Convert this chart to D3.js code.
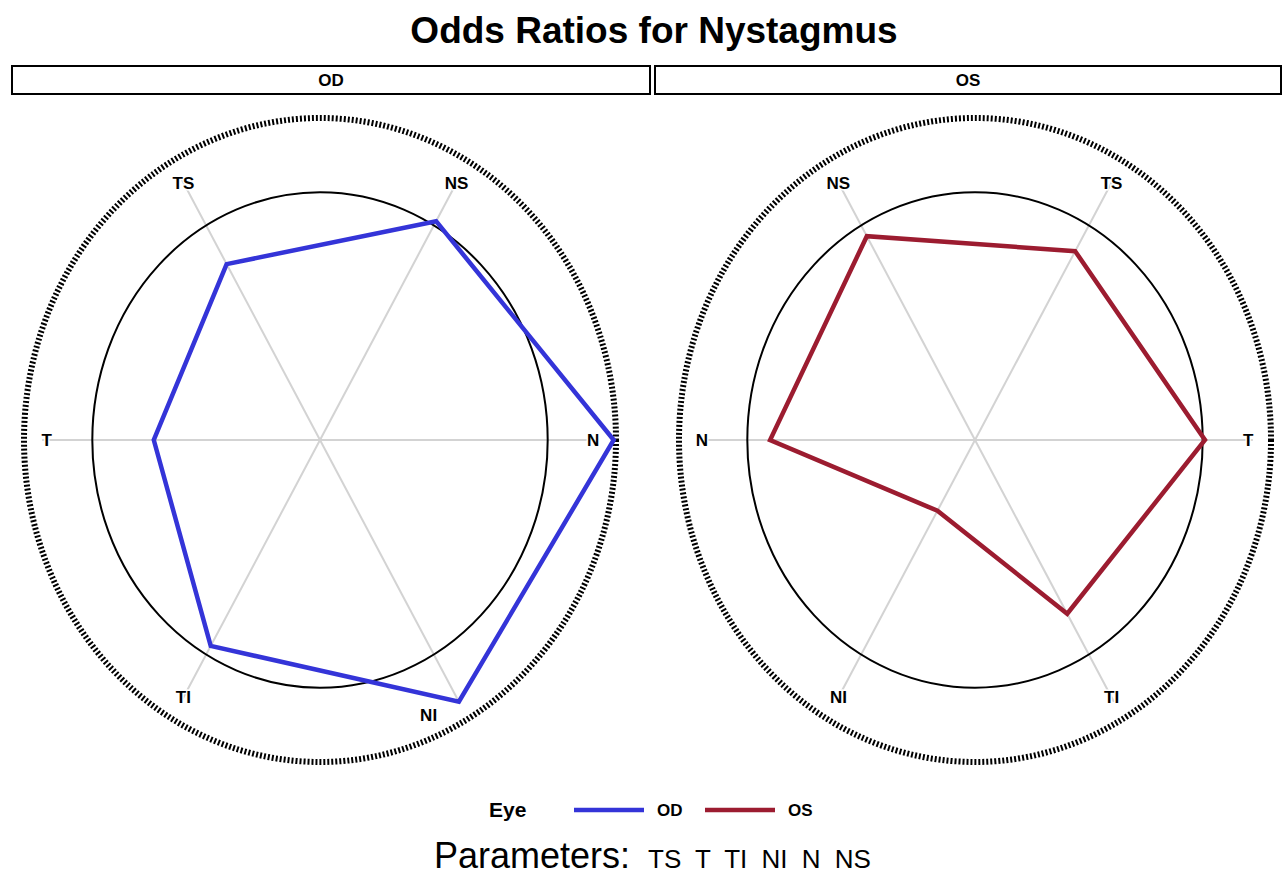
<!DOCTYPE html>
<html>
<head>
<meta charset="utf-8">
<script src="https://cdn.jsdelivr.net/npm/d3@7"></script>
<style>
  html, body { margin: 0; padding: 0; background: #fff; }
  svg { display: block; font-family: "Liberation Sans", Arial, sans-serif; }
</style>
</head>
<body>
<svg id="chart" width="1283" height="875"></svg>
<script>
// ---- data ----
const parameters = ["TS", "T", "TI", "NI", "N", "NS"];
const eyes = ["OD", "OS"];
const odValues = [0.82, 0.73, 0.96, 1.22, 1.29, 1.02];
const osValues = [0.88, 1.01, 0.81, 0.33, 0.90, 0.95];
const odAngles = [120, 180, 240, 300, 0, 60];   // degrees, counter-clockwise from east
const osAngles = [60, 0, 300, 240, 180, 120];
const eyeColors = ["#3434d8", "#9c1c30"];
const referenceValue = 1;
const outerValue = 1.3;
const spokeValue = 1.22;
const labelValue = 1.2;

const series = [
  { eye: "OD", values: odValues, angles: odAngles, color: eyeColors[0] },
  { eye: "OS", values: osValues, angles: osAngles, color: eyeColors[1] }
];

// ---- layout ----
const svg = d3.select("#chart");
const centers = [{ x: 320, y: 440 }, { x: 975, y: 440 }];
const rX = d3.scaleLinear().domain([0, outerValue]).range([0, 296]);
const rY = d3.scaleLinear().domain([0, outerValue]).range([0, 322]);
const rad = d => d * Math.PI / 180;

// title
svg.append("text")
  .attr("x", 654).attr("y", 43)
  .attr("text-anchor", "middle")
  .attr("font-weight", "bold").attr("font-size", 37)
  .text("Odds Ratios for Nystagmus");

// panel headers
const headers = [{ x0: 12, x1: 650 }, { x0: 655, x1: 1281 }];
headers.forEach((h, i) => {
  svg.append("rect")
    .attr("x", h.x0).attr("y", 66).attr("width", h.x1 - h.x0).attr("height", 28)
    .attr("fill", "#fff").attr("stroke", "#000").attr("stroke-width", 2);
  svg.append("text")
    .attr("x", (h.x0 + h.x1) / 2).attr("y", 86)
    .attr("text-anchor", "middle")
    .attr("font-weight", "bold").attr("font-size", 17)
    .text(eyes[i]);
});

series.forEach((s, i) => {
  const c = centers[i];
  const g = svg.append("g");
  const px = (v, a) => c.x + rX(v) * Math.cos(rad(a));
  const py = (v, a) => c.y - rY(v) * Math.sin(rad(a));

  // outer dotted circle
  g.append("ellipse")
    .attr("cx", c.x).attr("cy", c.y)
    .attr("rx", rX(outerValue)).attr("ry", rY(outerValue))
    .attr("fill", "none").attr("stroke", "#000")
    .attr("stroke-width", 6).attr("stroke-dasharray", "2,2");

  // spokes
  g.selectAll("line.spoke").data(s.angles).join("line")
    .attr("class", "spoke")
    .attr("x1", c.x).attr("y1", c.y)
    .attr("x2", a => px(spokeValue, a)).attr("y2", a => py(spokeValue, a))
    .attr("stroke", "#d3d3d3").attr("stroke-width", 2);

  // reference circle (odds ratio = 1)
  g.append("ellipse")
    .attr("cx", c.x).attr("cy", c.y)
    .attr("rx", rX(referenceValue)).attr("ry", rY(referenceValue))
    .attr("fill", "none").attr("stroke", "#000").attr("stroke-width", 2);

  // data polygon
  const pts = s.values.map((v, k) => [px(v, s.angles[k]), py(v, s.angles[k])]);
  g.append("path")
    .attr("d", d3.line().curve(d3.curveLinearClosed)(pts))
    .attr("fill", "none").attr("stroke", s.color)
    .attr("stroke-width", 4.5).attr("stroke-linejoin", "miter");

  // spoke labels (shifted aside when a data vertex sits on the label spot)
  g.selectAll("text.lab").data(parameters).join("text")
    .attr("class", "lab")
    .attr("x", (p, k) => px(labelValue, s.angles[k]) - (Math.abs(s.values[k] - labelValue) < 0.05 && s.angles[k] !== 0 ? 28 : 0))
    .attr("y", (p, k) => py(labelValue, s.angles[k]) + (Math.abs(s.values[k] - labelValue) < 0.05 && s.angles[k] !== 0 ? 18 : 0))
    .attr("dy", "0.35em")
    .attr("text-anchor", "middle")
    .attr("font-weight", "bold").attr("font-size", 17)
    .attr("stroke", "#fff").attr("stroke-width", 3).attr("paint-order", "stroke")
    .text(p => p);
});

// legend
const leg = svg.append("g");
leg.append("text").attr("x", 489).attr("y", 817)
  .attr("font-weight", "bold").attr("font-size", 21).text("Eye");
const legX = [574, 705];
series.forEach((s, i) => {
  leg.append("line")
    .attr("x1", legX[i]).attr("x2", legX[i] + 70)
    .attr("y1", 810).attr("y2", 810)
    .attr("stroke", s.color).attr("stroke-width", 4.5);
  leg.append("text")
    .attr("x", legX[i] + 83).attr("y", 816)
    .attr("font-weight", "bold").attr("font-size", 17)
    .text(s.eye);
});

// footnote
svg.append("text").attr("x", 434).attr("y", 868)
  .attr("font-size", 36).text("Parameters:");
svg.append("text").attr("x", 648).attr("y", 868)
  .attr("font-size", 26).attr("word-spacing", 7).text(parameters.join(" "));
</script>
</body>
</html>
